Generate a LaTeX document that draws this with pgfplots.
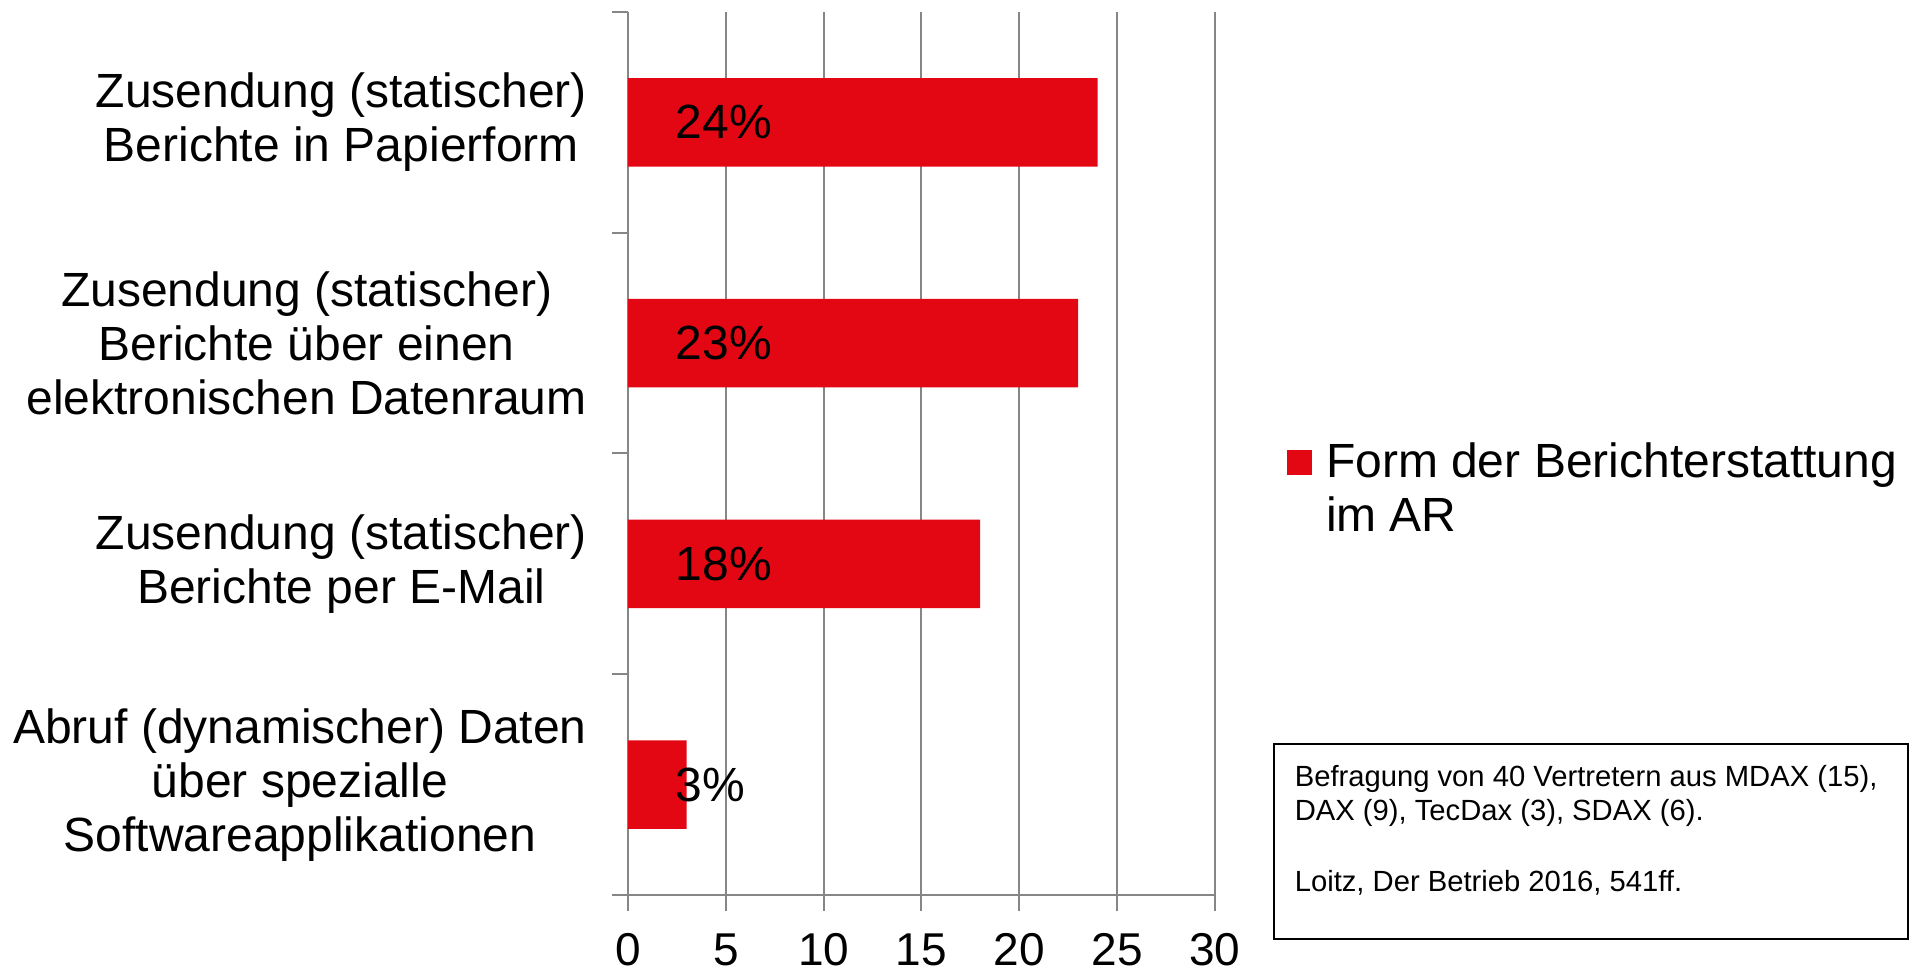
\documentclass[border=0pt]{standalone}
\usepackage{pgfplots}
\pgfplotsset{compat=1.18}
\usepackage{pgfplotstable}
\usepackage{fontspec}
\setmainfont{Liberation Sans}
\definecolor{barred}{RGB}{227,6,19}
\definecolor{gridgray}{RGB}{134,134,134}

\pgfplotstableread{
y v
1 3
2 18
3 23
4 24
}\datatable

\begin{document}
\begin{tikzpicture}
\useasboundingbox (0,0) rectangle (479.75pt,242.75pt);
\begin{axis}[
  at={(157pt,19pt)}, anchor=south west,
  scale only axis, width=146.75pt, height=220.75pt,
  xmin=0, xmax=30, ymin=0.5, ymax=4.5,
  axis x line*=bottom, axis y line*=left,
  axis line style={gridgray, line width=0.5pt},
  xtick={0,5,...,30},
  xmajorgrids, grid style={gridgray, line width=0.5pt},
  ytick={0.5,1.5,2.5,3.5,4.5},
  y tick label as interval,
  yticklabels={{Abruf (dynamischer) Daten\\über spezialle\\Softwareapplikationen},
               {Zusendung (statischer)\\Berichte per E-Mail},
               {Zusendung (statischer)\\Berichte über einen\\elektronischen Datenraum},
               {Zusendung (statischer)\\Berichte in Papierform}},
  tick align=outside,
  major tick length=4pt,
  tick style={gridgray, line width=0.5pt},
  yticklabel style={font=\fontsize{12}{13.5}\selectfont, align=center, inner sep=0pt, xshift=-6.1pt},
  xticklabel style={font=\fontsize{11.5}{13}\selectfont, inner sep=0pt, yshift=-5.4pt},
  /pgf/number format/assume math mode=true,
  legend style={at={(rel axis cs:1.1227,0.459)}, anchor=west, draw=none, fill=none,
    inner sep=0pt, outer sep=0pt, font=\fontsize{12}{13.5}\selectfont,
    cells={align=left}, nodes={inner sep=1pt}, row sep=0pt, column sep=2.5pt},
  legend cell align=left,
]
\addplot[xbar, bar width=0.4, fill=barred, draw=none,
  legend image code/.code={\path[fill=none, draw=none] (0pt,-10pt) rectangle (6.25pt,10pt);
    \fill[barred] (0pt,3.55pt) rectangle (6.25pt,9.8pt);}]
  table[x=v, y=y] {\datatable};
\addlegendentry{Form der Berichterstattung\\im AR}
\addplot[draw=none, mark=none, forget plot,
  point meta=explicit,
  nodes near coords={\pgfmathprintnumber{\pgfplotspointmeta}\%},
  nodes near coords style={anchor=west, inner sep=0pt, text=black,
    font=\fontsize{12}{13.5}\selectfont}]
  table[x expr=2.4, y=y, meta=v] {\datatable};
\end{axis}
\draw[black, line width=0.5pt] (318.5pt,8pt) rectangle (477pt,56.75pt);
\begin{scope}[every node/.style={anchor=base west, inner sep=0pt, font=\fontsize{7.3}{8.5}\selectfont}]
\node at (323.5pt,46.1pt) {Befragung von 40 Vertretern aus MDAX (15),};
\node at (323.5pt,37.6pt) {DAX (9), TecDax (3), SDAX (6).};
\node at (323.5pt,19.9pt) {Loitz, Der Betrieb 2016, 541ff.};
\end{scope}
\end{tikzpicture}
\end{document}
